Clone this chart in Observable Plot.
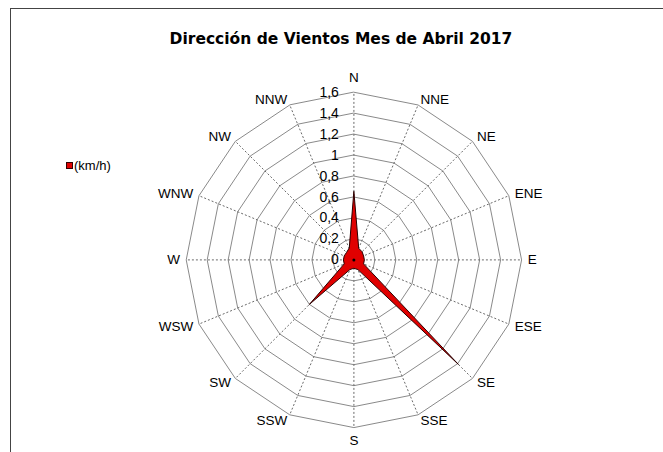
<!DOCTYPE html>
<html>
<head>
<meta charset="utf-8">
<script src="https://cdn.jsdelivr.net/npm/d3@7"></script>
<script src="https://cdn.jsdelivr.net/npm/@observablehq/plot@0.6"></script>
<style>
  html, body { margin: 0; padding: 0; background: #fff; }
  #wrap { position: relative; width: 663px; height: 452px; overflow: hidden; background: #fff; }
  #frame { position: absolute; left: 10px; top: 8px; right: -2px; bottom: -2px; border-top: 1px solid #444; border-left: 1px solid #444; }
  #title { position: absolute; left: 20px; width: 642px; top: 30px; text-align: center; font-family: "DejaVu Sans", sans-serif; font-weight: bold; font-size: 15.5px; color: #000; }
  #legend { position: absolute; left: 66px; top: 158px; font-family: "Liberation Sans", Arial, sans-serif; font-size: 13px; color: #000; display: flex; align-items: center; }
  #legend .sw { width: 5px; height: 5px; background: #e00000; border: 1px solid #300; margin-right: 1px; }
  #chart { position: absolute; left: 0; top: 0; }
</style>
</head>
<body>
<div id="wrap">
  <div id="frame"></div>
  <div id="chart"></div>
  <div id="title"></div>
  <div id="legend"><span class="sw"></span><span id="legtext"></span></div>
</div>
<script>
const title = "Dirección de Vientos Mes de Abril 2017";
const seriesName = "(km/h)";
const directions = ["N","NNE","NE","ENE","E","ESE","SE","SSE","S","SSW","SW","WSW","W","WNW","NW","NNW"];
const speeds = [0.65, 0.12, 0.11, 0.10, 0.10, 0.10, 1.41, 0.10, 0.08, 0.10, 0.60, 0.10, 0.10, 0.10, 0.10, 0.12];
const tickValues = [0, 0.2, 0.4, 0.6, 0.8, 1, 1.2, 1.4, 1.6];
const tickLabels = ["0", "0,2", "0,4", "0,6", "0,8", "1", "1,2", "1,4", "1,6"];

document.getElementById("title").textContent = title;
document.getElementById("legtext").textContent = seriesName;

const W = 663, H = 452;
const cx = 353.4, cy = 259.4, k = 104.8; // pixel center and pixels per unit
const rMax = tickValues[tickValues.length - 1];
const n = directions.length;
const ang = i => i * 2 * Math.PI / n;
const px = (r, i) => r * Math.sin(ang(i));
const py = (r, i) => r * Math.cos(ang(i));

const rings = [];
for (const t of tickValues.slice(1)) {
  directions.forEach((d, i) => rings.push({ring: t, x: px(t, i), y: py(t, i)}));
}
const spokes = directions.map((d, i) => ({x1: 0, y1: 0, x2: px(rMax, i), y2: py(rMax, i)}));
const series = directions.map((d, i) => ({dir: d, x: px(speeds[i], i), y: py(speeds[i], i)}));
const labR = rMax + 0.06;
const dirLabels = directions.map((d, i) => ({dir: d, i, x: px(labR, i), y: py(labR, i)}));
const ticks = tickValues.map((t, j) => ({t, label: tickLabels[j]}));

const plot = Plot.plot({
  width: W, height: H,
  marginTop: 0, marginRight: 0, marginBottom: 0, marginLeft: 0,
  x: {domain: [-cx / k, (W - cx) / k], axis: null},
  y: {domain: [-(H - cy) / k, cy / k], axis: null},
  style: {background: "transparent"},
  marks: [
    Plot.line(rings, {x: "x", y: "y", z: "ring", curve: "linear-closed", stroke: "#8a8a8a", strokeWidth: 1}),
    Plot.link(spokes, {x1: "x1", y1: "y1", x2: "x2", y2: "y2", stroke: "#6a6a6a", strokeWidth: 1, strokeDasharray: "2,2"}),
    Plot.line(series, {x: "x", y: "y", curve: "linear-closed", fill: "#e00000", stroke: "#2a0000", strokeWidth: 1}),
    Plot.dot([{x: 0, y: 0}], {x: "x", y: "y", r: 1.5, fill: "#000"}),
    Plot.text(ticks, {x: () => 0, y: "t", text: "label", textAnchor: "end", dx: -15, fontSize: 14, fill: "#000", fontFamily: "Liberation Sans, Arial, sans-serif"}),
    Plot.text(dirLabels.filter(d => d.i > 0 && d.i < n / 2), {x: "x", y: "y", text: "dir", textAnchor: "start", fontSize: 13.5, fill: "#000", fontFamily: "Liberation Sans, Arial, sans-serif"}),
    Plot.text(dirLabels.filter(d => d.i > n / 2), {x: "x", y: "y", text: "dir", textAnchor: "end", fontSize: 13.5, fill: "#000", fontFamily: "Liberation Sans, Arial, sans-serif"}),
    Plot.text(dirLabels.filter(d => d.i === 0), {x: "x", y: "y", text: "dir", lineAnchor: "bottom", dy: -4, fontSize: 13.5, fill: "#000", fontFamily: "Liberation Sans, Arial, sans-serif"}),
    Plot.text(dirLabels.filter(d => d.i === n / 2), {x: "x", y: "y", text: "dir", lineAnchor: "top", dy: 2, fontSize: 13.5, fill: "#000", fontFamily: "Liberation Sans, Arial, sans-serif"})
  ]
});
document.getElementById("chart").appendChild(plot);
</script>
</body>
</html>
